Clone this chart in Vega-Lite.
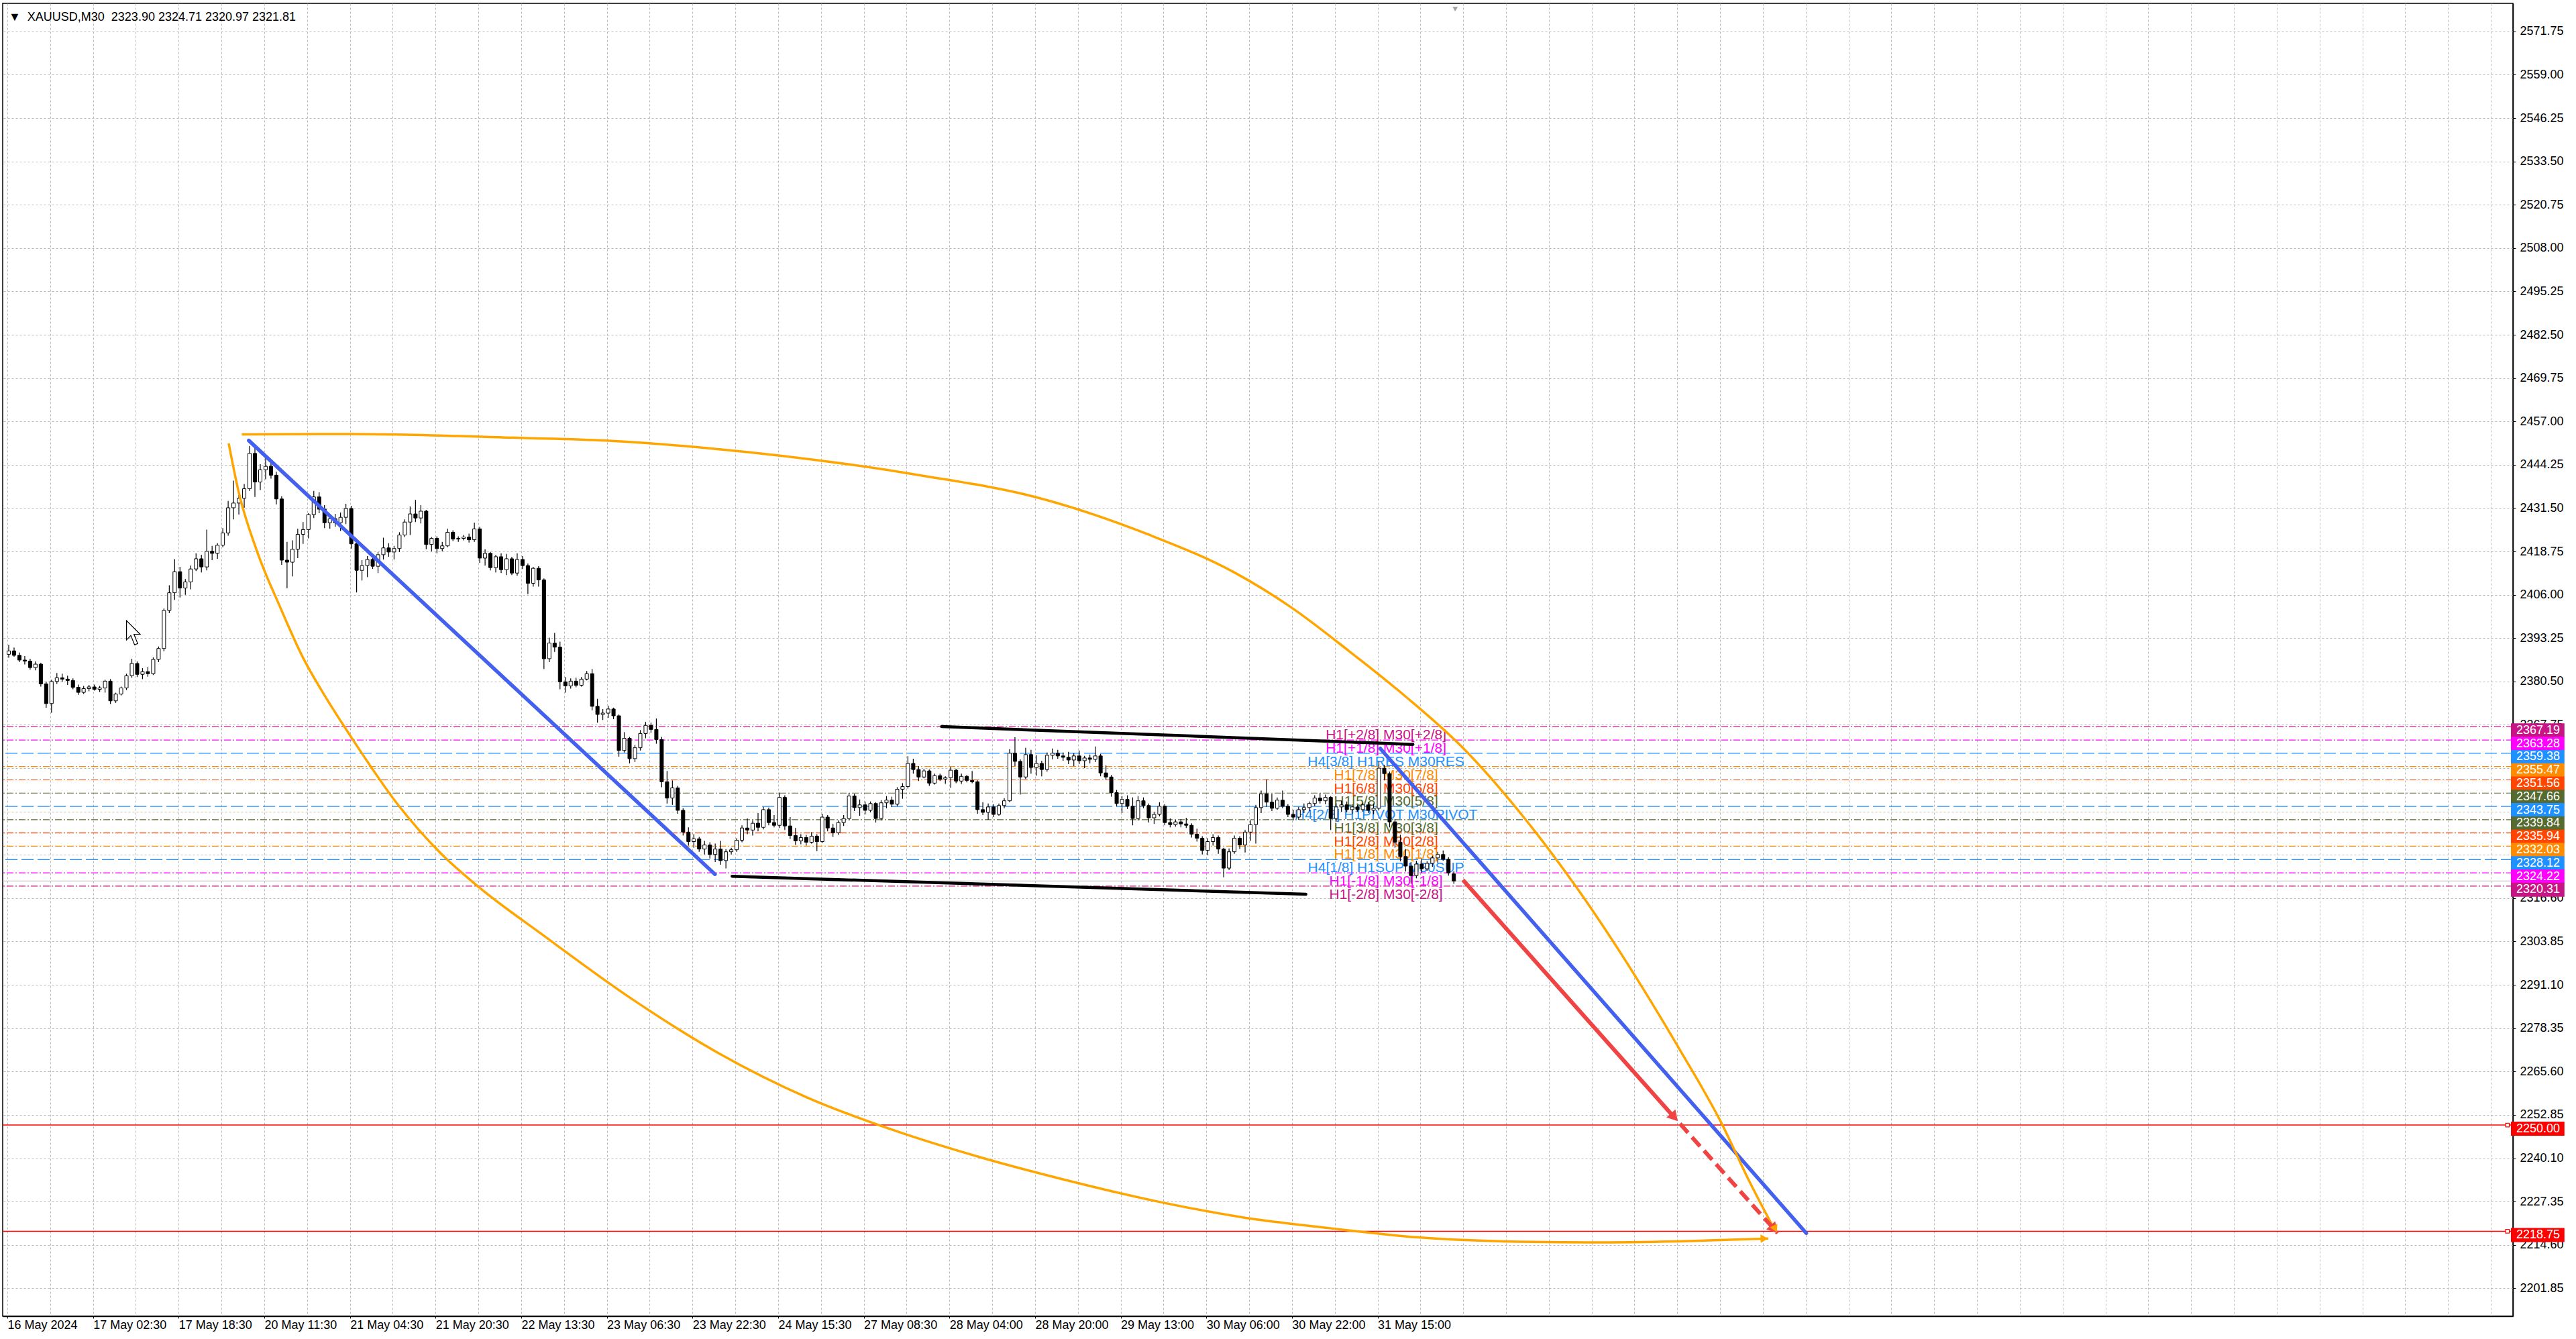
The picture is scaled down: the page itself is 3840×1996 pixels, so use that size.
{
  "$schema": "https://vega.github.io/schema/vega-lite/v6.json",
  "width": 3742,
  "height": 1957,
  "autosize": {"type": "none"},
  "padding": {"left": 4, "top": 5, "right": 94, "bottom": 34},
  "background": "#ffffff",
  "config": {
    "view": {"stroke": "#000000", "strokeWidth": 1.5},
    "text": {"font": "Liberation Sans"}
  },
  "datasets": {
    "levels": [
      {"lv": "+2/8", "kind": "h1", "p": 2367.19, "lab": "H1[+2/8] M30[+2/8]"},
      {"lv": "+1/8", "kind": "h1", "p": 2363.28, "lab": "H1[+1/8] M30[+1/8]"},
      {"lv": "8/8", "kind": "h4", "p": 2359.38, "lab": "H4[3/8] H1RES M30RES"},
      {"lv": "7/8", "kind": "h1", "p": 2355.47, "lab": "H1[7/8] M30[7/8]"},
      {"lv": "6/8", "kind": "h1", "p": 2351.56, "lab": "H1[6/8] M30[6/8]"},
      {"lv": "5/8", "kind": "h1", "p": 2347.66, "lab": "H1[5/8] M30[5/8]"},
      {"lv": "4/8", "kind": "h4", "p": 2343.75, "lab": "H4[2/8] H1PIVOT M30PIVOT"},
      {"lv": "3/8", "kind": "h1", "p": 2339.84, "lab": "H1[3/8] M30[3/8]"},
      {"lv": "2/8", "kind": "h1", "p": 2335.94, "lab": "H1[2/8] M30[2/8]"},
      {"lv": "1/8", "kind": "h1", "p": 2332.03, "lab": "H1[1/8] M30[1/8]"},
      {"lv": "0/8", "kind": "h4", "p": 2328.12, "lab": "H4[1/8] H1SUP M30SUP"},
      {"lv": "-1/8", "kind": "h1", "p": 2324.22, "lab": "H1[-1/8] M30[-1/8]"},
      {"lv": "-2/8", "kind": "h1", "p": 2320.31, "lab": "H1[-2/8] M30[-2/8]"}
    ],
    "hlines": [{"p": 2250.0}, {"p": 2218.75}],
    "bid": [{"p": 2321.81}],
    "blueLines": [
      {"g": 1, "t": 90.2, "p": 2451.4}, {"g": 1, "t": 264.4, "p": 2323.8},
      {"g": 2, "t": 513.0, "p": 2360.8}, {"g": 2, "t": 672.2, "p": 2218.2}
    ],
    "blackLines": [
      {"g": 1, "t": 349.1, "p": 2367.23}, {"g": 1, "t": 525.2, "p": 2361.99},
      {"g": 2, "t": 270.8, "p": 2323.2}, {"g": 2, "t": 485.2, "p": 2317.9}
    ],
    "arcUp": [
      {"t": 87.6, "p": 2453.21}, {"t": 128.5, "p": 2453.31}, {"t": 191.75, "p": 2452.17},
      {"t": 223.75, "p": 2451.39}, {"t": 263.5, "p": 2449.03}, {"t": 341.0, "p": 2441.18},
      {"t": 383.75, "p": 2434.84}, {"t": 426.5, "p": 2423.7}, {"t": 458.5, "p": 2412.57},
      {"t": 479.9, "p": 2402.22}, {"t": 501.25, "p": 2389.5}, {"t": 522.6, "p": 2375.99},
      {"t": 544.0, "p": 2360.87}, {"t": 565.35, "p": 2341.79}, {"t": 586.7, "p": 2319.52},
      {"t": 608.1, "p": 2294.07}, {"t": 625.2, "p": 2271.81}, {"t": 640.15, "p": 2251.13},
      {"t": 650.8, "p": 2233.64}, {"t": 656.8, "p": 2224.5}, {"t": 660.8, "p": 2218.6}
    ],
    "arcLow": [
      {"t": 82.7, "p": 2450.55}, {"t": 86.3, "p": 2436.66}, {"t": 93.2, "p": 2419.0},
      {"t": 101.8, "p": 2402.6}, {"t": 110.4, "p": 2387.6}, {"t": 119.0, "p": 2375.8},
      {"t": 128.5, "p": 2364.1}, {"t": 145.7, "p": 2344.5}, {"t": 162.9, "p": 2329.2},
      {"t": 175.4, "p": 2320.5}, {"t": 201.0, "p": 2305.4}, {"t": 233.55, "p": 2287.0},
      {"t": 266.1, "p": 2271.0}, {"t": 298.6, "p": 2258.2}, {"t": 331.1, "p": 2248.5},
      {"t": 363.65, "p": 2240.5}, {"t": 396.2, "p": 2233.7}, {"t": 428.7, "p": 2227.7},
      {"t": 461.25, "p": 2222.9}, {"t": 493.8, "p": 2219.7}, {"t": 526.3, "p": 2217.0},
      {"t": 558.8, "p": 2215.8}, {"t": 591.35, "p": 2215.5}, {"t": 623.9, "p": 2215.8},
      {"t": 658.0, "p": 2216.6}
    ],
    "redSolid": [{"t": 543.9, "p": 2322.1}, {"t": 622.5, "p": 2252.6}],
    "redDash": [{"t": 625.0, "p": 2250.4}, {"t": 661.5, "p": 2218.2}],
    "redHeads": [{"t": 622.9, "p": 2252.3}, {"t": 660.2, "p": 2219.4}],
    "candles": [
      {"t":0.5,"o":2388.5,"h":2391.3,"l":2387.5,"c":2389.5},
      {"t":2.5,"o":2389.5,"h":2390.5,"l":2387.8,"c":2388.2},
      {"t":4.5,"o":2388.2,"h":2389,"l":2386.2,"c":2386.8},
      {"t":6.5,"o":2386.8,"h":2388,"l":2385.5,"c":2386.5},
      {"t":8.5,"o":2386.5,"h":2387.2,"l":2384,"c":2384.6},
      {"t":10.5,"o":2384.6,"h":2386.4,"l":2383.8,"c":2385.6},
      {"t":12.5,"o":2385.6,"h":2386,"l":2379,"c":2379.8},
      {"t":14.5,"o":2379.8,"h":2380.5,"l":2372.8,"c":2374},
      {"t":16.5,"o":2374,"h":2381,"l":2371.3,"c":2380.5},
      {"t":18.5,"o":2380.5,"h":2383,"l":2379.8,"c":2381.6},
      {"t":20.5,"o":2381.6,"h":2382.8,"l":2380.4,"c":2381.2},
      {"t":22.5,"o":2381.2,"h":2382.2,"l":2379.5,"c":2380.8},
      {"t":24.5,"o":2380.8,"h":2381.4,"l":2378.2,"c":2378.8},
      {"t":26.5,"o":2378.8,"h":2379.6,"l":2376.6,"c":2377.3},
      {"t":28.5,"o":2377.3,"h":2379.2,"l":2376.8,"c":2378.4},
      {"t":30.5,"o":2378.4,"h":2379.5,"l":2377.6,"c":2378.9},
      {"t":32.5,"o":2378.9,"h":2379.6,"l":2377.8,"c":2378.2},
      {"t":34.5,"o":2378.2,"h":2379.2,"l":2377.4,"c":2378.6},
      {"t":36.5,"o":2378.6,"h":2381,"l":2377.2,"c":2380.6},
      {"t":38.5,"o":2380.6,"h":2381.2,"l":2373.9,"c":2374.8},
      {"t":40.5,"o":2374.8,"h":2377.2,"l":2374.2,"c":2376.8},
      {"t":42.5,"o":2376.8,"h":2379,"l":2376.4,"c":2378.6},
      {"t":44.5,"o":2378.6,"h":2382.8,"l":2378,"c":2382.2},
      {"t":46.5,"o":2382.2,"h":2387.2,"l":2381.6,"c":2385.8},
      {"t":48.5,"o":2385.8,"h":2386.4,"l":2381.8,"c":2382.6},
      {"t":50.5,"o":2382.6,"h":2384.4,"l":2381.2,"c":2383.4},
      {"t":52.5,"o":2383.4,"h":2384.8,"l":2381.9,"c":2382.8},
      {"t":54.5,"o":2382.8,"h":2387.6,"l":2382.4,"c":2387},
      {"t":56.5,"o":2387,"h":2390.8,"l":2386.2,"c":2390.2},
      {"t":58.5,"o":2390.2,"h":2402,"l":2389.4,"c":2401.4},
      {"t":60.5,"o":2401.4,"h":2408.8,"l":2400.6,"c":2406.6},
      {"t":62.5,"o":2406.6,"h":2416.5,"l":2404.5,"c":2412.8},
      {"t":64.5,"o":2412.8,"h":2414.2,"l":2405.2,"c":2408},
      {"t":66.5,"o":2408,"h":2410.6,"l":2406,"c":2409.8},
      {"t":68.5,"o":2409.8,"h":2414.6,"l":2407.6,"c":2413.6},
      {"t":70.5,"o":2413.6,"h":2418.2,"l":2413,"c":2416.6},
      {"t":72.5,"o":2416.6,"h":2417.8,"l":2412.6,"c":2414.2},
      {"t":74.5,"o":2414.2,"h":2425.2,"l":2413.2,"c":2418.8},
      {"t":76.5,"o":2418.8,"h":2420.4,"l":2416.2,"c":2418.2},
      {"t":78.5,"o":2418.2,"h":2421.2,"l":2416.6,"c":2420.6},
      {"t":80.5,"o":2420.6,"h":2425.6,"l":2420,"c":2424.2},
      {"t":82.5,"o":2424.2,"h":2433.6,"l":2423.4,"c":2431.6},
      {"t":84.5,"o":2431.6,"h":2439.6,"l":2428.2,"c":2433},
      {"t":86.5,"o":2433,"h":2436.4,"l":2429.6,"c":2434.4},
      {"t":88.5,"o":2434.4,"h":2438.6,"l":2431.6,"c":2437.2},
      {"t":90.5,"o":2437.2,"h":2449.8,"l":2436.6,"c":2447.6},
      {"t":92.5,"o":2447.6,"h":2449.4,"l":2434.8,"c":2439.2},
      {"t":94.5,"o":2439.2,"h":2444.4,"l":2436.8,"c":2442.8},
      {"t":96.5,"o":2442.8,"h":2446.4,"l":2440,"c":2443.8},
      {"t":98.5,"o":2443.8,"h":2445.4,"l":2440.2,"c":2441.2},
      {"t":100.5,"o":2441.2,"h":2442.2,"l":2432.6,"c":2434.2},
      {"t":102.5,"o":2434.2,"h":2435,"l":2414.8,"c":2416.2},
      {"t":104.5,"o":2416.2,"h":2421.6,"l":2407.9,"c":2415.6},
      {"t":106.5,"o":2415.6,"h":2422,"l":2411.4,"c":2419.4},
      {"t":108.5,"o":2419.4,"h":2425.4,"l":2416.8,"c":2423.8},
      {"t":110.5,"o":2423.8,"h":2427.4,"l":2421,"c":2425.2},
      {"t":112.5,"o":2425.2,"h":2430,"l":2422.6,"c":2429.6},
      {"t":114.5,"o":2429.6,"h":2436.6,"l":2428.6,"c":2434.8},
      {"t":116.5,"o":2434.8,"h":2436.2,"l":2430,"c":2431.2},
      {"t":118.5,"o":2431.2,"h":2432.4,"l":2425.6,"c":2427.2},
      {"t":120.5,"o":2427.2,"h":2429.6,"l":2425.4,"c":2428.4},
      {"t":122.5,"o":2428.4,"h":2429.8,"l":2426,"c":2427.2},
      {"t":124.5,"o":2427.2,"h":2430.2,"l":2424.8,"c":2428.8},
      {"t":126.5,"o":2428.8,"h":2432.8,"l":2426.8,"c":2431.4},
      {"t":128.5,"o":2431.4,"h":2432.2,"l":2419.6,"c":2421},
      {"t":130.5,"o":2421,"h":2422.4,"l":2406.7,"c":2413.2},
      {"t":132.5,"o":2413.2,"h":2416.2,"l":2410.2,"c":2414.6},
      {"t":134.5,"o":2414.6,"h":2417.4,"l":2411.2,"c":2416.4},
      {"t":136.5,"o":2416.4,"h":2417.8,"l":2413.6,"c":2414.4},
      {"t":138.5,"o":2414.4,"h":2418.6,"l":2412.4,"c":2417.8},
      {"t":140.5,"o":2417.8,"h":2422.8,"l":2416.4,"c":2419.8},
      {"t":142.5,"o":2419.8,"h":2421.2,"l":2417.2,"c":2418.6},
      {"t":144.5,"o":2418.6,"h":2420.4,"l":2416.4,"c":2419.6},
      {"t":146.5,"o":2419.6,"h":2424.4,"l":2418.6,"c":2423.6},
      {"t":148.5,"o":2423.6,"h":2428.2,"l":2423,"c":2427.4},
      {"t":150.5,"o":2427.4,"h":2432,"l":2423.6,"c":2429.8},
      {"t":152.5,"o":2429.8,"h":2433.9,"l":2427.4,"c":2428.6},
      {"t":154.5,"o":2428.6,"h":2432.4,"l":2427,"c":2430.6},
      {"t":156.5,"o":2430.6,"h":2431,"l":2419.4,"c":2420.8},
      {"t":158.5,"o":2420.8,"h":2423,"l":2418.8,"c":2422.6},
      {"t":160.5,"o":2422.6,"h":2423.2,"l":2418.2,"c":2419.6},
      {"t":162.5,"o":2419.6,"h":2421.6,"l":2418.8,"c":2420.4},
      {"t":164.5,"o":2420.4,"h":2425.4,"l":2420,"c":2424.4},
      {"t":166.5,"o":2424.4,"h":2425,"l":2421.8,"c":2422.4},
      {"t":168.5,"o":2422.4,"h":2423.2,"l":2421.6,"c":2422.6},
      {"t":170.5,"o":2422.6,"h":2423.6,"l":2422,"c":2423},
      {"t":172.5,"o":2423,"h":2424,"l":2421.4,"c":2422.2},
      {"t":174.5,"o":2422.2,"h":2427.2,"l":2421.6,"c":2425.4},
      {"t":176.5,"o":2425.4,"h":2426,"l":2415.4,"c":2416.8},
      {"t":178.5,"o":2416.8,"h":2419.4,"l":2414.6,"c":2418.2},
      {"t":180.5,"o":2418.2,"h":2418.6,"l":2413.2,"c":2414},
      {"t":182.5,"o":2414,"h":2417.8,"l":2412.6,"c":2417.2},
      {"t":184.5,"o":2417.2,"h":2418.2,"l":2412.4,"c":2413.4},
      {"t":186.5,"o":2413.4,"h":2418,"l":2411.8,"c":2416.6},
      {"t":188.5,"o":2416.6,"h":2417.2,"l":2411.8,"c":2412.4},
      {"t":190.5,"o":2412.4,"h":2418.2,"l":2411.6,"c":2416.4},
      {"t":192.5,"o":2416.4,"h":2417.4,"l":2413.6,"c":2414.6},
      {"t":194.5,"o":2414.6,"h":2415.2,"l":2406.2,"c":2409.4},
      {"t":196.5,"o":2409.4,"h":2414.2,"l":2408.4,"c":2413.8},
      {"t":198.5,"o":2413.8,"h":2414.4,"l":2408.4,"c":2410.4},
      {"t":200.5,"o":2410.4,"h":2410.8,"l":2384.2,"c":2387.2},
      {"t":202.5,"o":2387.2,"h":2393.4,"l":2386.2,"c":2391.8},
      {"t":204.5,"o":2391.8,"h":2394.8,"l":2389.2,"c":2390.6},
      {"t":206.5,"o":2390.6,"h":2392.2,"l":2378.2,"c":2380.4},
      {"t":208.5,"o":2380.4,"h":2381.8,"l":2377.2,"c":2379.2},
      {"t":210.5,"o":2379.2,"h":2381.4,"l":2378.4,"c":2380.6},
      {"t":212.5,"o":2380.6,"h":2381.6,"l":2378.8,"c":2379.4},
      {"t":214.5,"o":2379.4,"h":2381.8,"l":2379,"c":2381.2},
      {"t":216.5,"o":2381.2,"h":2383.6,"l":2380.8,"c":2382.8},
      {"t":218.5,"o":2382.8,"h":2384.2,"l":2372,"c":2373.2},
      {"t":220.5,"o":2373.2,"h":2375.4,"l":2368.4,"c":2370.8},
      {"t":222.5,"o":2370.8,"h":2372.4,"l":2369.2,"c":2371.2},
      {"t":224.5,"o":2371.2,"h":2373.4,"l":2369.8,"c":2372.4},
      {"t":226.5,"o":2372.4,"h":2372.8,"l":2369.4,"c":2370.4},
      {"t":228.5,"o":2370.4,"h":2370.8,"l":2358.4,"c":2360.2},
      {"t":230.5,"o":2360.2,"h":2365.6,"l":2359.6,"c":2363.8},
      {"t":232.5,"o":2363.8,"h":2364.2,"l":2356.4,"c":2357.8},
      {"t":234.5,"o":2357.8,"h":2361.8,"l":2356.8,"c":2361},
      {"t":236.5,"o":2361,"h":2366.2,"l":2360.2,"c":2365.2},
      {"t":238.5,"o":2365.2,"h":2368.6,"l":2363.8,"c":2367.6},
      {"t":240.5,"o":2367.6,"h":2368.4,"l":2365.4,"c":2366.4},
      {"t":242.5,"o":2366.4,"h":2369.6,"l":2362.2,"c":2363.4},
      {"t":244.5,"o":2363.4,"h":2364.2,"l":2349.4,"c":2351},
      {"t":246.5,"o":2351,"h":2354.2,"l":2344.6,"c":2346.2},
      {"t":248.5,"o":2346.2,"h":2351.4,"l":2344.2,"c":2349.2},
      {"t":250.5,"o":2349.2,"h":2349.8,"l":2341.6,"c":2342.6},
      {"t":252.5,"o":2342.6,"h":2343.2,"l":2335.2,"c":2336.2},
      {"t":254.5,"o":2336.2,"h":2337.6,"l":2332.2,"c":2333.4},
      {"t":256.5,"o":2333.4,"h":2335.6,"l":2331.6,"c":2334.2},
      {"t":258.5,"o":2334.2,"h":2334.8,"l":2330.4,"c":2331.2},
      {"t":260.5,"o":2331.2,"h":2333.6,"l":2329.6,"c":2332.4},
      {"t":262.5,"o":2332.4,"h":2333.2,"l":2328.4,"c":2329.6},
      {"t":264.5,"o":2329.6,"h":2332.8,"l":2327.4,"c":2331.2},
      {"t":266.5,"o":2331.2,"h":2333.6,"l":2326.6,"c":2327.8},
      {"t":268.5,"o":2327.8,"h":2331.2,"l":2325.5,"c":2330.4},
      {"t":270.5,"o":2330.4,"h":2331.6,"l":2329.6,"c":2331},
      {"t":272.5,"o":2331,"h":2334.4,"l":2330.4,"c":2333.8},
      {"t":274.5,"o":2333.8,"h":2338.2,"l":2333.2,"c":2337.4},
      {"t":276.5,"o":2337.4,"h":2340.2,"l":2335.6,"c":2336.8},
      {"t":278.5,"o":2336.8,"h":2339.6,"l":2335.2,"c":2338.8},
      {"t":280.5,"o":2338.8,"h":2341.8,"l":2336.4,"c":2337.6},
      {"t":282.5,"o":2337.6,"h":2343.6,"l":2337,"c":2342.8},
      {"t":284.5,"o":2342.8,"h":2343.4,"l":2338.2,"c":2339},
      {"t":286.5,"o":2339,"h":2341.2,"l":2337.6,"c":2338.2},
      {"t":288.5,"o":2338.2,"h":2347.8,"l":2337.4,"c":2346.4},
      {"t":290.5,"o":2346.4,"h":2347,"l":2336.8,"c":2338},
      {"t":292.5,"o":2338,"h":2340.6,"l":2334.2,"c":2335.2},
      {"t":294.5,"o":2335.2,"h":2337.4,"l":2332.4,"c":2333.6},
      {"t":296.5,"o":2333.6,"h":2335.6,"l":2332.6,"c":2334.6},
      {"t":298.5,"o":2334.6,"h":2335.4,"l":2332.2,"c":2333.2},
      {"t":300.5,"o":2333.2,"h":2336.2,"l":2332.8,"c":2335},
      {"t":302.5,"o":2335,"h":2335.6,"l":2330.6,"c":2333.4},
      {"t":304.5,"o":2333.4,"h":2341.6,"l":2333,"c":2340.6},
      {"t":306.5,"o":2340.6,"h":2341.2,"l":2336.4,"c":2337.4},
      {"t":308.5,"o":2337.4,"h":2338.6,"l":2334.8,"c":2336},
      {"t":310.5,"o":2336,"h":2339.6,"l":2335.4,"c":2339},
      {"t":312.5,"o":2339,"h":2341.2,"l":2338,"c":2340.2},
      {"t":314.5,"o":2340.2,"h":2347.7,"l":2339.6,"c":2346.8},
      {"t":316.5,"o":2346.8,"h":2347.4,"l":2342.4,"c":2343.4},
      {"t":318.5,"o":2343.4,"h":2345.8,"l":2341,"c":2344.2},
      {"t":320.5,"o":2344.2,"h":2345.2,"l":2341.4,"c":2342.6},
      {"t":322.5,"o":2342.6,"h":2345.2,"l":2342,"c":2344.6},
      {"t":324.5,"o":2344.6,"h":2345,"l":2339,"c":2340.2},
      {"t":326.5,"o":2340.2,"h":2345.6,"l":2339.6,"c":2344.8},
      {"t":328.5,"o":2344.8,"h":2346.8,"l":2343.2,"c":2345.6},
      {"t":330.5,"o":2345.6,"h":2346.6,"l":2343.6,"c":2344.4},
      {"t":332.5,"o":2344.4,"h":2349.4,"l":2343.8,"c":2348.8},
      {"t":334.5,"o":2348.8,"h":2350.6,"l":2346,"c":2349.6},
      {"t":336.5,"o":2349.6,"h":2358.5,"l":2349,"c":2356.4},
      {"t":338.5,"o":2356.4,"h":2357.8,"l":2353.4,"c":2354.6},
      {"t":340.5,"o":2354.6,"h":2355.6,"l":2351.2,"c":2352.4},
      {"t":342.5,"o":2352.4,"h":2354.8,"l":2352,"c":2354.2},
      {"t":344.5,"o":2354.2,"h":2354.6,"l":2349.8,"c":2350.6},
      {"t":346.5,"o":2350.6,"h":2353.4,"l":2350.2,"c":2352.8},
      {"t":348.5,"o":2352.8,"h":2353.4,"l":2351.2,"c":2351.8},
      {"t":350.5,"o":2351.8,"h":2352.6,"l":2350.4,"c":2352.2},
      {"t":352.5,"o":2352.2,"h":2355.4,"l":2349.2,"c":2354.4},
      {"t":354.5,"o":2354.4,"h":2354.8,"l":2350.6,"c":2351.2},
      {"t":356.5,"o":2351.2,"h":2353.4,"l":2350.4,"c":2352.6},
      {"t":358.5,"o":2352.6,"h":2353,"l":2350.8,"c":2351.4},
      {"t":360.5,"o":2351.4,"h":2354.2,"l":2350.6,"c":2351},
      {"t":362.5,"o":2351,"h":2351.4,"l":2341.6,"c":2342.8},
      {"t":364.5,"o":2342.8,"h":2345,"l":2341.2,"c":2342},
      {"t":366.5,"o":2342,"h":2344.6,"l":2339.8,"c":2343.6},
      {"t":368.5,"o":2343.6,"h":2344.4,"l":2340.6,"c":2341.4},
      {"t":370.5,"o":2341.4,"h":2344.6,"l":2341,"c":2344},
      {"t":372.5,"o":2344,"h":2346.2,"l":2343.2,"c":2345.4},
      {"t":374.5,"o":2345.4,"h":2360.6,"l":2345,"c":2359.4},
      {"t":376.5,"o":2359.4,"h":2364.1,"l":2355.6,"c":2357},
      {"t":378.5,"o":2357,"h":2357.6,"l":2347.2,"c":2352.4},
      {"t":380.5,"o":2352.4,"h":2361,"l":2351.8,"c":2359},
      {"t":382.5,"o":2359,"h":2360.4,"l":2353.4,"c":2355.2},
      {"t":384.5,"o":2355.2,"h":2358.8,"l":2352.8,"c":2356.4},
      {"t":386.5,"o":2356.4,"h":2357.2,"l":2352.6,"c":2354.6},
      {"t":388.5,"o":2354.6,"h":2359.6,"l":2354,"c":2358.8},
      {"t":390.5,"o":2358.8,"h":2360.8,"l":2357.6,"c":2359.4},
      {"t":392.5,"o":2359.4,"h":2360.4,"l":2357.8,"c":2358.6},
      {"t":394.5,"o":2358.6,"h":2359.6,"l":2357.2,"c":2358.2},
      {"t":396.5,"o":2358.2,"h":2359.8,"l":2356.2,"c":2357.4},
      {"t":398.5,"o":2357.4,"h":2359.4,"l":2355.6,"c":2358.6},
      {"t":400.5,"o":2358.6,"h":2360.2,"l":2356.2,"c":2357.2},
      {"t":402.5,"o":2357.2,"h":2358.6,"l":2355,"c":2358},
      {"t":404.5,"o":2358,"h":2359,"l":2356.4,"c":2357.6},
      {"t":406.5,"o":2357.6,"h":2361.4,"l":2356.8,"c":2358.6},
      {"t":408.5,"o":2358.6,"h":2359.2,"l":2352.6,"c":2353.6},
      {"t":410.5,"o":2353.6,"h":2355.8,"l":2351.6,"c":2352.4},
      {"t":412.5,"o":2352.4,"h":2353,"l":2346.6,"c":2347.8},
      {"t":414.5,"o":2347.8,"h":2348.6,"l":2343.8,"c":2344.6},
      {"t":416.5,"o":2344.6,"h":2346.8,"l":2341.8,"c":2345.8},
      {"t":418.5,"o":2345.8,"h":2347,"l":2343,"c":2343.8},
      {"t":420.5,"o":2343.8,"h":2346.4,"l":2338.2,"c":2340.2},
      {"t":422.5,"o":2340.2,"h":2346.8,"l":2339.6,"c":2345.4},
      {"t":424.5,"o":2345.4,"h":2346.4,"l":2343.2,"c":2344},
      {"t":426.5,"o":2344,"h":2344.6,"l":2339,"c":2340.4},
      {"t":428.5,"o":2340.4,"h":2342.2,"l":2338.6,"c":2341.4},
      {"t":430.5,"o":2341.4,"h":2345,"l":2340.8,"c":2343.8},
      {"t":432.5,"o":2343.8,"h":2344.4,"l":2338.2,"c":2339},
      {"t":434.5,"o":2339,"h":2340.2,"l":2337.6,"c":2338.4},
      {"t":436.5,"o":2338.4,"h":2339.8,"l":2337.8,"c":2339.2},
      {"t":438.5,"o":2339.2,"h":2340,"l":2337.6,"c":2338.6},
      {"t":440.5,"o":2338.6,"h":2340.4,"l":2337.4,"c":2338.2},
      {"t":442.5,"o":2338.2,"h":2338.8,"l":2334.6,"c":2335.6},
      {"t":444.5,"o":2335.6,"h":2337.2,"l":2333.4,"c":2334.4},
      {"t":446.5,"o":2334.4,"h":2335,"l":2329.6,"c":2330.8},
      {"t":448.5,"o":2330.8,"h":2334.4,"l":2329.4,"c":2333.4},
      {"t":450.5,"o":2333.4,"h":2335.6,"l":2332.2,"c":2334.6},
      {"t":452.5,"o":2334.6,"h":2335.2,"l":2329.8,"c":2331.2},
      {"t":454.5,"o":2331.2,"h":2331.6,"l":2322.9,"c":2325.6},
      {"t":456.5,"o":2325.6,"h":2331.4,"l":2325,"c":2330.4},
      {"t":458.5,"o":2330.4,"h":2335.2,"l":2329.8,"c":2334.4},
      {"t":460.5,"o":2334.4,"h":2335,"l":2331.2,"c":2332.4},
      {"t":462.5,"o":2332.4,"h":2336.8,"l":2330.2,"c":2336.2},
      {"t":464.5,"o":2336.2,"h":2339.6,"l":2333.6,"c":2338.4},
      {"t":466.5,"o":2338.4,"h":2344.2,"l":2332.8,"c":2343.4},
      {"t":468.5,"o":2343.4,"h":2348.4,"l":2341.8,"c":2347.4},
      {"t":470.5,"o":2347.4,"h":2351.7,"l":2343.6,"c":2345},
      {"t":472.5,"o":2345,"h":2347.4,"l":2342.4,"c":2343.2},
      {"t":474.5,"o":2343.2,"h":2346.4,"l":2342.8,"c":2345.6},
      {"t":476.5,"o":2345.6,"h":2348.4,"l":2343.2,"c":2343.8},
      {"t":478.5,"o":2343.8,"h":2344.4,"l":2340.6,"c":2341.4},
      {"t":480.5,"o":2341.4,"h":2342.8,"l":2339.6,"c":2340.6},
      {"t":482.5,"o":2340.6,"h":2343.6,"l":2339.8,"c":2342.8},
      {"t":484.5,"o":2342.8,"h":2344.6,"l":2341.8,"c":2343.4},
      {"t":486.5,"o":2343.4,"h":2345.2,"l":2342.4,"c":2344.6},
      {"t":488.5,"o":2344.6,"h":2347,"l":2343.8,"c":2346.2},
      {"t":490.5,"o":2346.2,"h":2347.6,"l":2344.6,"c":2345.4},
      {"t":492.5,"o":2345.4,"h":2347.2,"l":2344.4,"c":2346.4},
      {"t":494.5,"o":2346.4,"h":2346.8,"l":2336.8,"c":2340.2},
      {"t":496.5,"o":2340.2,"h":2344.6,"l":2339.4,"c":2343.6},
      {"t":498.5,"o":2343.6,"h":2345.4,"l":2342.2,"c":2344.2},
      {"t":500.5,"o":2344.2,"h":2345.2,"l":2342,"c":2342.8},
      {"t":502.5,"o":2342.8,"h":2344.4,"l":2341.6,"c":2343.6},
      {"t":504.5,"o":2343.6,"h":2344.2,"l":2342.2,"c":2342.8},
      {"t":506.5,"o":2342.8,"h":2344.8,"l":2342.2,"c":2344.2},
      {"t":508.5,"o":2344.2,"h":2345,"l":2341.8,"c":2342.6},
      {"t":510.5,"o":2342.6,"h":2344.6,"l":2341.4,"c":2343.2},
      {"t":512.5,"o":2343.2,"h":2356.9,"l":2342.6,"c":2355},
      {"t":514.5,"o":2355,"h":2356,"l":2351.4,"c":2353.4},
      {"t":516.5,"o":2353.4,"h":2354,"l":2337.6,"c":2339.2},
      {"t":518.5,"o":2339.2,"h":2340,"l":2331.6,"c":2333.2},
      {"t":520.5,"o":2333.2,"h":2335.4,"l":2327.6,"c":2329},
      {"t":522.5,"o":2329,"h":2331.2,"l":2324.6,"c":2326.2},
      {"t":524.5,"o":2326.2,"h":2327.4,"l":2321,"c":2323.4},
      {"t":526.5,"o":2323.4,"h":2327.8,"l":2322.6,"c":2326.8},
      {"t":528.5,"o":2326.8,"h":2328.4,"l":2324.2,"c":2325.4},
      {"t":530.5,"o":2325.4,"h":2327.6,"l":2324.8,"c":2327},
      {"t":532.5,"o":2327,"h":2329.2,"l":2326,"c":2328.6},
      {"t":534.5,"o":2328.6,"h":2330.4,"l":2327.2,"c":2329.6},
      {"t":536.5,"o":2329.6,"h":2330.8,"l":2327.8,"c":2328.2},
      {"t":538.5,"o":2328.2,"h":2328.8,"l":2323.4,"c":2324.2},
      {"t":540.5,"o":2323.9,"h":2324.71,"l":2320.97,"c":2321.81}
    ]
  },
  "layer": [
    {
      "data": {"name": "candles"},
      "mark": {"type": "rule", "opacity": 0},
      "encoding": {
        "x": {
          "field": "t", "type": "quantitative",
          "scale": {"domain": [-0.5, 935], "nice": false, "zero": false},
          "axis": {
            "values": [0, 16, 32, 48, 64, 80, 96, 112, 128, 144, 160, 176, 192, 208, 224, 240, 256, 272, 288, 304, 320, 336, 352, 368, 384, 400, 416, 432, 448, 464, 480, 496, 512, 528, 544, 560, 576, 592, 608, 624, 640, 656, 672, 688, 704, 720, 736, 752, 768, 784, 800, 816, 832, 848, 864, 880, 896, 912, 928],
            "labelExpr": "datum.value % 32 == 0 && datum.value <= 512 ? ['16 May 2024','17 May 02:30','17 May 18:30','20 May 11:30','21 May 04:30','21 May 20:30','22 May 13:30','23 May 06:30','23 May 22:30','24 May 15:30','27 May 08:30','28 May 04:00','28 May 20:00','29 May 13:00','30 May 06:00','30 May 22:00','31 May 15:00'][datum.value / 32] : ''",
            "labelAlign": "left",
            "labelBaseline": "top",
            "labelFont": "Liberation Sans",
            "labelFontSize": 18,
            "labelColor": "#000000",
            "labelPadding": 1,
            "labelOverlap": false,
            "labelFlush": false,
            "labelBound": false,
            "tickSize": 3,
            "tickColor": {"condition": {"test": "datum.value % 32 == 0 && datum.value <= 512", "value": "#000000"}, "value": "transparent"},
            "domainColor": "#000000",
            "domainWidth": 1.5,
            "grid": true,
            "gridColor": "#B8B8B8",
            "gridDash": [3, 3],
            "gridWidth": 1,
            "title": null
          }
        },
        "y": {
          "field": "l", "type": "quantitative",
          "scale": {"domain": [2194.76, 2579.02], "nice": false, "zero": false},
          "axis": {
            "orient": "right",
            "values": [2571.75, 2559, 2546.25, 2533.5, 2520.75, 2508, 2495.25, 2482.5, 2469.75, 2457, 2444.25, 2431.5, 2418.75, 2406, 2393.25, 2380.5, 2367.75, 2355, 2342.25, 2329.5, 2316.75, 2304, 2291.25, 2278.5, 2265.75, 2253, 2240.25, 2227.5, 2214.75, 2202],
            "labelExpr": "datum.value == 2355 || datum.value == 2342.25 || datum.value == 2329.5 ? '' : (datum.value < 2320 ? format(datum.value - 0.15, '.2f') : format(datum.value, '.2f'))",
            "labelFont": "Liberation Sans",
            "labelFontSize": 18,
            "labelColor": "#000000",
            "labelPadding": 6,
            "labelOverlap": false,
            "labelFlush": false,
            "labelBound": false,
            "tickSize": 4,
            "tickColor": "#000000",
            "domainColor": "#000000",
            "domainWidth": 1.5,
            "grid": true,
            "gridColor": "#B8B8B8",
            "gridDash": [3, 3],
            "gridWidth": 1,
            "title": null
          }
        },
        "y2": {"field": "h"}
      }
    },
    {
      "data": {"name": "levels"},
      "transform": [{"filter": "datum.kind == 'h1'"}],
      "mark": {"type": "rule", "strokeWidth": 1.2, "strokeDash": [10, 3, 2, 3]},
      "encoding": {
        "y": {"field": "p", "type": "quantitative", "scale": {"domain": [2194.76, 2579.02], "nice": false, "zero": false}},
        "color": {"field": "lv", "type": "nominal", "legend": null, "scale": {"domain": ["+2/8", "+1/8", "8/8", "7/8", "6/8", "5/8", "4/8", "3/8", "2/8", "1/8", "0/8", "-1/8", "-2/8"], "range": ["#C71585", "#FF00FF", "#1E90FF", "#FF8C00", "#FF4500", "#556B2F", "#1E90FF", "#556B2F", "#FF4500", "#FF8C00", "#1E90FF", "#FF00FF", "#C71585"]}}
      }
    },
    {
      "data": {"name": "levels"},
      "transform": [{"filter": "datum.kind == 'h4'"}],
      "mark": {"type": "rule", "strokeWidth": 1.2, "strokeDash": [18, 6]},
      "encoding": {
        "y": {"field": "p", "type": "quantitative", "scale": {"domain": [2194.76, 2579.02], "nice": false, "zero": false}},
        "color": {"field": "lv", "type": "nominal", "legend": null, "scale": {"domain": ["+2/8", "+1/8", "8/8", "7/8", "6/8", "5/8", "4/8", "3/8", "2/8", "1/8", "0/8", "-1/8", "-2/8"], "range": ["#C71585", "#FF00FF", "#1E90FF", "#FF8C00", "#FF4500", "#556B2F", "#1E90FF", "#556B2F", "#FF4500", "#FF8C00", "#1E90FF", "#FF00FF", "#C71585"]}}
      }
    },
    {
      "data": {"name": "bid"},
      "mark": {"type": "rule", "color": "#C0C0C0", "strokeWidth": 1.2},
      "encoding": {
        "y": {"field": "p", "type": "quantitative", "scale": {"domain": [2194.76, 2579.02], "nice": false, "zero": false}}
      }
    },
    {
      "data": {"name": "hlines"},
      "mark": {"type": "rule", "color": "#FF0000", "strokeWidth": 1.5},
      "encoding": {
        "y": {"field": "p", "type": "quantitative", "scale": {"domain": [2194.76, 2579.02], "nice": false, "zero": false}}
      }
    },
    {
      "data": {"name": "levels"},
      "mark": {"type": "text", "align": "center", "baseline": "alphabetic", "dy": 19, "font": "Liberation Sans", "fontSize": 21},
      "encoding": {
        "x": {"datum": 515.15, "type": "quantitative", "scale": {"domain": [-0.5, 935], "nice": false, "zero": false}},
        "y": {"field": "p", "type": "quantitative", "scale": {"domain": [2194.76, 2579.02], "nice": false, "zero": false}},
        "text": {"field": "lab"},
        "color": {"field": "lv", "type": "nominal", "legend": null, "scale": {"domain": ["+2/8", "+1/8", "8/8", "7/8", "6/8", "5/8", "4/8", "3/8", "2/8", "1/8", "0/8", "-1/8", "-2/8"], "range": ["#C71585", "#FF00FF", "#1E90FF", "#FF8C00", "#FF4500", "#556B2F", "#1E90FF", "#556B2F", "#FF4500", "#FF8C00", "#1E90FF", "#FF00FF", "#C71585"]}}
      }
    },
    {
      "data": {"name": "candles"},
      "mark": {"type": "rule", "color": "#000000", "strokeWidth": 1.2},
      "encoding": {
        "x": {"field": "t", "type": "quantitative", "scale": {"domain": [-0.5, 935], "nice": false, "zero": false}},
        "y": {"field": "l", "type": "quantitative", "scale": {"domain": [2194.76, 2579.02], "nice": false, "zero": false}},
        "y2": {"field": "h"}
      }
    },
    {
      "data": {"name": "candles"},
      "mark": {"type": "bar", "size": 5, "stroke": "#000000", "strokeWidth": 1},
      "encoding": {
        "x": {"field": "t", "type": "quantitative", "scale": {"domain": [-0.5, 935], "nice": false, "zero": false}},
        "y": {"field": "o", "type": "quantitative", "scale": {"domain": [2194.76, 2579.02], "nice": false, "zero": false}},
        "y2": {"field": "c"},
        "fill": {"condition": {"test": "datum.c >= datum.o", "value": "#FFFFFF"}, "value": "#000000"}
      }
    },
    {
      "data": {"name": "blackLines"},
      "mark": {"type": "line", "color": "#000000", "strokeWidth": 4.5, "strokeCap": "round"},
      "encoding": {
        "x": {"field": "t", "type": "quantitative", "scale": {"domain": [-0.5, 935], "nice": false, "zero": false}},
        "y": {"field": "p", "type": "quantitative", "scale": {"domain": [2194.76, 2579.02], "nice": false, "zero": false}},
        "detail": {"field": "g"}
      }
    },
    {
      "data": {"name": "blueLines"},
      "mark": {"type": "line", "color": "#4361EE", "strokeWidth": 5.5, "strokeCap": "round"},
      "encoding": {
        "x": {"field": "t", "type": "quantitative", "scale": {"domain": [-0.5, 935], "nice": false, "zero": false}},
        "y": {"field": "p", "type": "quantitative", "scale": {"domain": [2194.76, 2579.02], "nice": false, "zero": false}},
        "detail": {"field": "g"}
      }
    },
    {
      "data": {"name": "arcUp"},
      "mark": {"type": "line", "color": "#FFA500", "strokeWidth": 3.5, "interpolate": "monotone"},
      "encoding": {
        "x": {"field": "t", "type": "quantitative", "scale": {"domain": [-0.5, 935], "nice": false, "zero": false}},
        "y": {"field": "p", "type": "quantitative", "scale": {"domain": [2194.76, 2579.02], "nice": false, "zero": false}}
      }
    },
    {
      "data": {"name": "arcLow"},
      "mark": {"type": "line", "color": "#FFA500", "strokeWidth": 3.5, "interpolate": "monotone"},
      "encoding": {
        "x": {"field": "t", "type": "quantitative", "scale": {"domain": [-0.5, 935], "nice": false, "zero": false}},
        "y": {"field": "p", "type": "quantitative", "scale": {"domain": [2194.76, 2579.02], "nice": false, "zero": false}}
      }
    },
    {
      "data": {"name": "redSolid"},
      "mark": {"type": "line", "color": "#F04444", "strokeWidth": 6},
      "encoding": {
        "x": {"field": "t", "type": "quantitative", "scale": {"domain": [-0.5, 935], "nice": false, "zero": false}},
        "y": {"field": "p", "type": "quantitative", "scale": {"domain": [2194.76, 2579.02], "nice": false, "zero": false}}
      }
    },
    {
      "data": {"name": "redDash"},
      "mark": {"type": "line", "color": "#F04444", "strokeWidth": 6, "strokeDash": [18, 9]},
      "encoding": {
        "x": {"field": "t", "type": "quantitative", "scale": {"domain": [-0.5, 935], "nice": false, "zero": false}},
        "y": {"field": "p", "type": "quantitative", "scale": {"domain": [2194.76, 2579.02], "nice": false, "zero": false}}
      }
    },
    {
      "data": {"name": "redHeads"},
      "mark": {"type": "point", "shape": "triangle-up", "size": 320, "angle": 138, "filled": true, "color": "#F04444", "opacity": 1},
      "encoding": {
        "x": {"field": "t", "type": "quantitative", "scale": {"domain": [-0.5, 935], "nice": false, "zero": false}},
        "y": {"field": "p", "type": "quantitative", "scale": {"domain": [2194.76, 2579.02], "nice": false, "zero": false}}
      }
    },
    {
      "data": {"values": [{}]},
      "mark": {"type": "point", "shape": "triangle-up", "size": 160, "angle": 153, "filled": true, "color": "#FFA500", "opacity": 1},
      "encoding": {
        "x": {"datum": 660.6, "type": "quantitative", "scale": {"domain": [-0.5, 935], "nice": false, "zero": false}},
        "y": {"datum": 2219.5, "type": "quantitative", "scale": {"domain": [2194.76, 2579.02], "nice": false, "zero": false}}
      }
    },
    {
      "data": {"values": [{}]},
      "mark": {"type": "point", "shape": "triangle-up", "size": 160, "angle": 88, "filled": true, "color": "#FFA500", "opacity": 1},
      "encoding": {
        "x": {"datum": 656.5, "type": "quantitative", "scale": {"domain": [-0.5, 935], "nice": false, "zero": false}},
        "y": {"datum": 2216.6, "type": "quantitative", "scale": {"domain": [2194.76, 2579.02], "nice": false, "zero": false}}
      }
    },
    {
      "data": {"name": "hlines"},
      "mark": {"type": "point", "shape": "square", "size": 30, "fill": "#FFFFFF", "stroke": "#FF0000", "strokeWidth": 1.2, "opacity": 1},
      "encoding": {
        "x": {"datum": 934.2, "type": "quantitative", "scale": {"domain": [-0.5, 935], "nice": false, "zero": false}},
        "y": {"field": "p", "type": "quantitative", "scale": {"domain": [2194.76, 2579.02], "nice": false, "zero": false}}
      }
    },
    {
      "data": {"name": "levels"},
      "mark": {"type": "bar", "size": 21, "yOffset": 5.5},
      "encoding": {
        "x": {"datum": 935.5, "type": "quantitative", "scale": {"domain": [-0.5, 935], "nice": false, "zero": false}},
        "x2": {"datum": 955.5},
        "y": {"field": "p", "type": "quantitative", "scale": {"domain": [2194.76, 2579.02], "nice": false, "zero": false}},
        "color": {"field": "lv", "type": "nominal", "legend": null, "scale": {"domain": ["+2/8", "+1/8", "8/8", "7/8", "6/8", "5/8", "4/8", "3/8", "2/8", "1/8", "0/8", "-1/8", "-2/8"], "range": ["#C71585", "#FF00FF", "#1E90FF", "#FF8C00", "#FF4500", "#556B2F", "#1E90FF", "#556B2F", "#FF4500", "#FF8C00", "#1E90FF", "#FF00FF", "#C71585"]}}
      }
    },
    {
      "data": {"name": "hlines"},
      "mark": {"type": "bar", "size": 21, "yOffset": 5.5, "color": "#FF0000"},
      "encoding": {
        "x": {"datum": 935.5, "type": "quantitative", "scale": {"domain": [-0.5, 935], "nice": false, "zero": false}},
        "x2": {"datum": 955.5},
        "y": {"field": "p", "type": "quantitative", "scale": {"domain": [2194.76, 2579.02], "nice": false, "zero": false}}
      }
    },
    {
      "data": {"name": "levels"},
      "mark": {"type": "text", "align": "left", "baseline": "middle", "dy": 5.5, "color": "#FFFFFF", "font": "Liberation Sans", "fontSize": 18},
      "encoding": {
        "x": {"datum": 937.5, "type": "quantitative", "scale": {"domain": [-0.5, 935], "nice": false, "zero": false}},
        "y": {"field": "p", "type": "quantitative", "scale": {"domain": [2194.76, 2579.02], "nice": false, "zero": false}},
        "text": {"field": "p", "type": "quantitative", "format": ".2f"}
      }
    },
    {
      "data": {"name": "hlines"},
      "mark": {"type": "text", "align": "left", "baseline": "middle", "dy": 5.5, "color": "#FFFFFF", "font": "Liberation Sans", "fontSize": 18},
      "encoding": {
        "x": {"datum": 937.5, "type": "quantitative", "scale": {"domain": [-0.5, 935], "nice": false, "zero": false}},
        "y": {"field": "p", "type": "quantitative", "scale": {"domain": [2194.76, 2579.02], "nice": false, "zero": false}},
        "text": {"field": "p", "type": "quantitative", "format": ".2f"}
      }
    },
    {
      "data": {"values": [{}]},
      "mark": {"type": "text", "align": "left", "baseline": "alphabetic", "font": "Liberation Sans", "fontSize": 18, "color": "#000000", "text": "\u25bc\u00a0 XAUUSD,M30\u00a0\u00a02323.90 2324.71 2320.97 2321.81"},
      "encoding": {
        "x": {"datum": 0.5, "type": "quantitative", "scale": {"domain": [-0.5, 935], "nice": false, "zero": false}},
        "y": {"datum": 2574.9, "type": "quantitative", "scale": {"domain": [2194.76, 2579.02], "nice": false, "zero": false}}
      }
    },
    {
      "data": {"values": [{}]},
      "mark": {"type": "point", "shape": "M-0.6,-1L-0.6,0.55L-0.25,0.2L0.05,0.95L0.3,0.85L0,0.1L0.5,0.1Z", "size": 1369, "filled": true, "fill": "#FFFFFF", "stroke": "#000000", "strokeWidth": 1.2, "opacity": 1},
      "encoding": {
        "x": {"datum": 47.3, "type": "quantitative", "scale": {"domain": [-0.5, 935], "nice": false, "zero": false}},
        "y": {"datum": 2394.75, "type": "quantitative", "scale": {"domain": [2194.76, 2579.02], "nice": false, "zero": false}}
      }
    },
    {
      "data": {"values": [{}]},
      "mark": {"type": "point", "shape": "triangle-down", "size": 60, "filled": true, "color": "#A0A0A0", "opacity": 1},
      "encoding": {
        "x": {"datum": 541, "type": "quantitative", "scale": {"domain": [-0.5, 935], "nice": false, "zero": false}},
        "y": {"datum": 2578.3, "type": "quantitative", "scale": {"domain": [2194.76, 2579.02], "nice": false, "zero": false}}
      }
    }
  ]
}
